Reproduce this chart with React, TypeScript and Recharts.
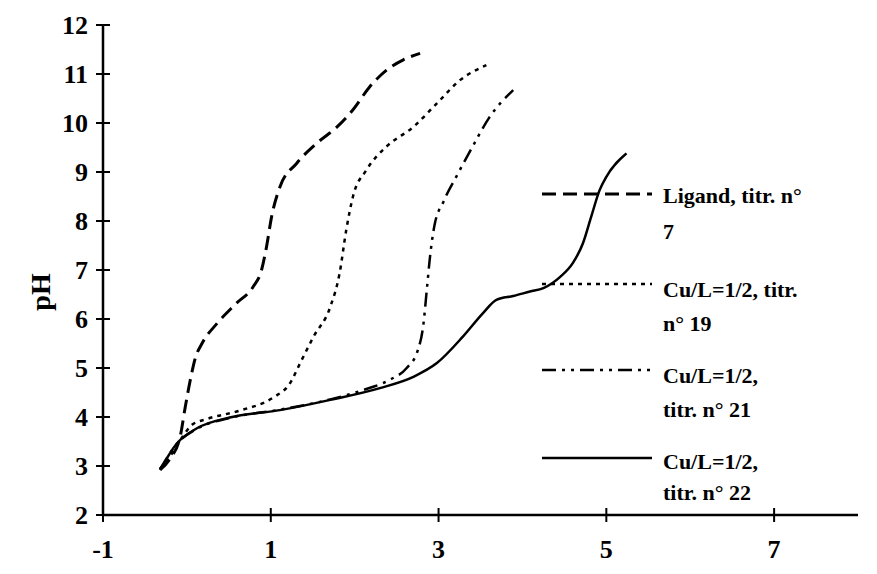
import React from 'react';
import { LineChart, Line, XAxis, YAxis, Legend } from 'recharts';

const xTicks = [-1, 1, 3, 5, 7];
const yTicks = [2, 3, 4, 5, 6, 7, 8, 9, 10, 11, 12];

const ligand7 = [
  { v: -0.32, pH: 2.92 }, { v: -0.2, pH: 3.15 }, { v: -0.08, pH: 3.6 }, { v: -0.02, pH: 4.2 },
  { v: 0.04, pH: 4.75 }, { v: 0.1, pH: 5.2 }, { v: 0.18, pH: 5.5 }, { v: 0.36, pH: 5.91 },
  { v: 0.59, pH: 6.32 }, { v: 0.79, pH: 6.66 }, { v: 0.89, pH: 7.0 }, { v: 0.95, pH: 7.48 },
  { v: 1.01, pH: 8.09 }, { v: 1.11, pH: 8.7 }, { v: 1.31, pH: 9.18 }, { v: 1.55, pH: 9.59 },
  { v: 1.79, pH: 9.92 }, { v: 1.98, pH: 10.27 }, { v: 2.18, pH: 10.74 }, { v: 2.38, pH: 11.08 },
  { v: 2.58, pH: 11.29 }, { v: 2.78, pH: 11.42 },
];

const cu19 = [
  { v: -0.32, pH: 2.95 }, { v: -0.2, pH: 3.2 }, { v: -0.05, pH: 3.6 }, { v: 0.06, pH: 3.84 },
  { v: 0.24, pH: 3.96 }, { v: 0.63, pH: 4.13 }, { v: 1.03, pH: 4.4 }, { v: 1.23, pH: 4.69 },
  { v: 1.35, pH: 5.1 }, { v: 1.51, pH: 5.64 }, { v: 1.71, pH: 6.25 }, { v: 1.82, pH: 6.93 },
  { v: 1.9, pH: 7.82 }, { v: 1.98, pH: 8.5 }, { v: 2.14, pH: 9.04 }, { v: 2.38, pH: 9.52 },
  { v: 2.7, pH: 9.92 }, { v: 2.98, pH: 10.4 }, { v: 3.26, pH: 10.88 }, { v: 3.57, pH: 11.18 },
];

const cu21 = [
  { v: -0.32, pH: 2.93 }, { v: -0.12, pH: 3.45 }, { v: 0.12, pH: 3.76 }, { v: 0.51, pH: 3.98 },
  { v: 1.11, pH: 4.15 }, { v: 1.71, pH: 4.36 }, { v: 2.1, pH: 4.55 }, { v: 2.42, pH: 4.76 },
  { v: 2.62, pH: 5.0 }, { v: 2.75, pH: 5.35 }, { v: 2.82, pH: 5.9 }, { v: 2.86, pH: 6.6 },
  { v: 2.9, pH: 7.3 }, { v: 2.95, pH: 7.9 }, { v: 3.06, pH: 8.4 }, { v: 3.21, pH: 8.9 },
  { v: 3.4, pH: 9.5 }, { v: 3.6, pH: 10.1 }, { v: 3.89, pH: 10.67 },
];

const cu22 = [
  { v: -0.32, pH: 2.92 }, { v: -0.12, pH: 3.46 }, { v: 0.12, pH: 3.77 }, { v: 0.51, pH: 3.99 },
  { v: 1.11, pH: 4.14 }, { v: 1.71, pH: 4.35 }, { v: 2.3, pH: 4.59 }, { v: 2.7, pH: 4.82 },
  { v: 2.98, pH: 5.1 }, { v: 3.29, pH: 5.64 }, { v: 3.53, pH: 6.12 }, { v: 3.69, pH: 6.39 },
  { v: 3.89, pH: 6.47 }, { v: 4.09, pH: 6.56 }, { v: 4.25, pH: 6.63 }, { v: 4.45, pH: 6.86 },
  { v: 4.6, pH: 7.14 }, { v: 4.72, pH: 7.54 }, { v: 4.82, pH: 8.09 }, { v: 4.92, pH: 8.63 },
  { v: 5.0, pH: 8.9 }, { v: 5.24, pH: 9.38 },
];

const seriesNames = [
  ['Ligand, titr. n°', '7'],
  ['Cu/L=1/2, titr.', 'n° 19'],
  ['Cu/L=1/2,', 'titr. n° 21'],
  ['Cu/L=1/2,', 'titr. n° 22'],
];

const FONT = '"Liberation Serif", "Times New Roman", serif';
const dashes = ['14 7', '4 5', '14 6 3 6 3 6', undefined];
const seriesData = [ligand7, cu19, cu21, cu22];

const XTick = (props: any) => {
  const { x, y, payload } = props;
  return (
    <g>
      <line x1={x} x2={x} y1={y - 7} y2={y + 7} stroke="#000" strokeWidth={2} />
      <text x={x} y={y + 43} textAnchor="middle" fontFamily={FONT} fontWeight="bold" fontSize={26} fill="#000">
        {payload.value}
      </text>
    </g>
  );
};

const YTick = (props: any) => {
  const { x, y, payload } = props;
  return (
    <g>
      <line x1={x - 7} x2={x + 7} y1={y} y2={y} stroke="#000" strokeWidth={2} />
      <text x={x - 15} y={y + 9} textAnchor="end" fontFamily={FONT} fontWeight="bold" fontSize={26} fill="#000">
        {payload.value}
      </text>
    </g>
  );
};

const LegendBox = () => {
  const rows = [
    { line: 24, t1: 33, t2: 69 },
    { line: 114, t1: 127, t2: 161 },
    { line: 200, t1: 213, t2: 247 },
    { line: 288, t1: 299, t2: 330 },
  ];
  return (
    <svg width={340} height={345}>
      {rows.map((r, i) => (
        <g key={i}>
          <line x1={12} x2={122} y1={r.line} y2={r.line} stroke="#000" strokeWidth={i === 0 ? 3 : 2.5} strokeDasharray={dashes[i]} />
          <text x={133} y={r.t1} fontFamily={FONT} fontWeight="bold" fontSize={22} fill="#000">{seriesNames[i][0]}</text>
          <text x={133} y={r.t2} fontFamily={FONT} fontWeight="bold" fontSize={22} fill="#000">{seriesNames[i][1]}</text>
        </g>
      ))}
    </svg>
  );
};

export default function App() {
  return (
    <div style={{ position: 'absolute', left: 0, top: 0, background: '#fff' }}>
      <LineChart width={877} height={574} margin={{ top: 25, right: 19, bottom: 0, left: 43 }}>
        <XAxis
          type="number"
          dataKey="v"
          domain={[-1, 8]}
          ticks={xTicks}
          allowDataOverflow
          axisLine={{ stroke: '#000', strokeWidth: 2.5 }}
          tickLine={false}
          tickSize={0}
          tickMargin={0}
          tick={<XTick />}
          interval={0}
          height={59}
        />
        <YAxis
          type="number"
          dataKey="pH"
          domain={[2, 12]}
          ticks={yTicks}
          allowDataOverflow
          axisLine={{ stroke: '#000', strokeWidth: 2.5 }}
          tickLine={false}
          tickSize={0}
          tickMargin={0}
          tick={<YTick />}
          interval={0}
          width={60}
          label={(p: any) => {
            const vb = p.viewBox || {};
            const cy = (vb.y || 0) + (vb.height || 0) / 2 + 22;
            return (
              <text x={50} y={cy} transform={`rotate(-90, 50, ${cy})`} textAnchor="middle" fontFamily={FONT} fontWeight="bold" fontSize={28} fill="#000">
                pH
              </text>
            );
          }}
        />
        <Legend
          layout="horizontal"
          verticalAlign="middle"
          align="center"
          content={<LegendBox />}
          wrapperStyle={{ left: 530, top: 170, width: 340, height: 345 }}
        />
        {seriesData.map((d, i) => (
          <Line
            key={i}
            data={d}
            dataKey="pH"
            name={seriesNames[i].join(' ')}
            type="monotone"
            stroke="#000"
            strokeWidth={i === 0 ? 3 : 2.5}
            strokeDasharray={dashes[i]}
            dot={false}
            activeDot={false}
            isAnimationActive={false}
          />
        ))}
      </LineChart>
    </div>
  );
}
